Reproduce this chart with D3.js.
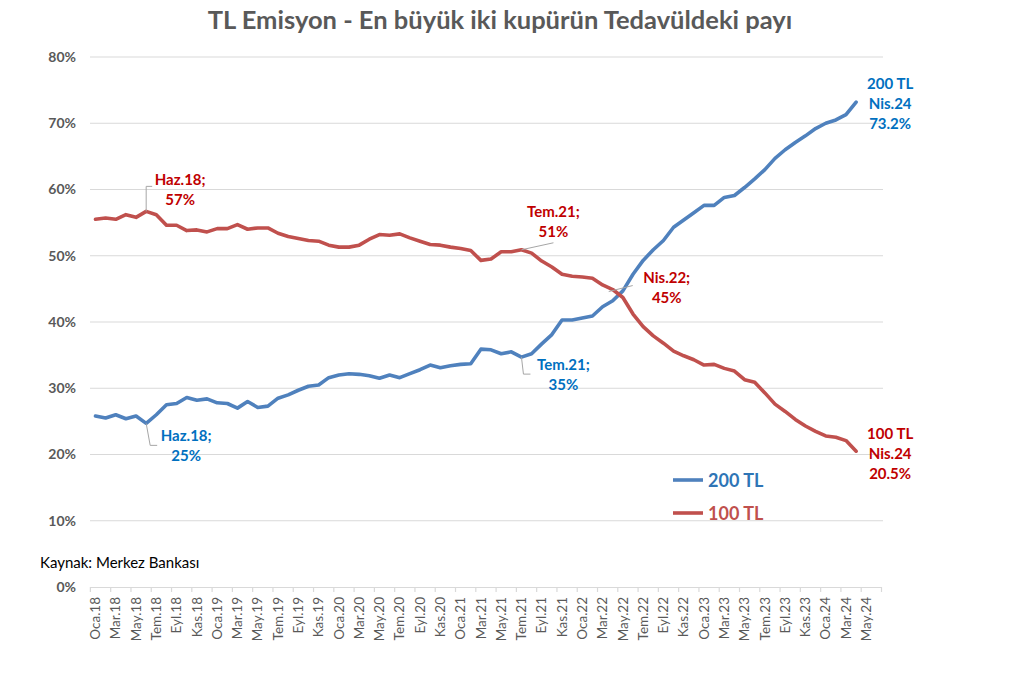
<!DOCTYPE html>
<html>
<head>
<meta charset="utf-8">
<script src="https://cdn.jsdelivr.net/npm/d3@7"></script>
<style>
  html, body { margin: 0; padding: 0; background: #fff; }
  svg { display: block; font-family: Lato, "Open Sans", sans-serif; }
</style>
</head>
<body>
<svg id="chart" width="1024" height="691"></svg>
<script>
const categories = [
  "Oca.18","Şub.18","Mar.18","Nis.18","May.18","Haz.18","Tem.18","Ağu.18","Eyl.18","Eki.18","Kas.18","Ara.18",
  "Oca.19","Şub.19","Mar.19","Nis.19","May.19","Haz.19","Tem.19","Ağu.19","Eyl.19","Eki.19","Kas.19","Ara.19",
  "Oca.20","Şub.20","Mar.20","Nis.20","May.20","Haz.20","Tem.20","Ağu.20","Eyl.20","Eki.20","Kas.20","Ara.20",
  "Oca.21","Şub.21","Mar.21","Nis.21","May.21","Haz.21","Tem.21","Ağu.21","Eyl.21","Eki.21","Kas.21","Ara.21",
  "Oca.22","Şub.22","Mar.22","Nis.22","May.22","Haz.22","Tem.22","Ağu.22","Eyl.22","Eki.22","Kas.22","Ara.22",
  "Oca.23","Şub.23","Mar.23","Nis.23","May.23","Haz.23","Tem.23","Ağu.23","Eyl.23","Eki.23","Kas.23","Ara.23",
  "Oca.24","Şub.24","Mar.24","Nis.24","May.24","Haz.24"
];

// share of 200 TL notes (%)
const values200 = [
  25.8,25.5,26.0,25.4,25.8,24.7,26.0,27.5,27.7,28.6,28.2,28.4,
  27.8,27.7,27.0,28.0,27.1,27.3,28.5,29.0,29.7,30.3,30.5,31.6,
  32.0,32.2,32.1,31.9,31.5,32.0,31.6,32.2,32.8,33.5,33.1,33.4,
  33.6,33.7,35.9,35.8,35.2,35.5,34.7,35.2,36.7,38.1,40.3,40.3,
  40.6,40.9,42.3,43.2,44.7,47.2,49.3,50.9,52.3,54.3,55.4,56.5,
  57.6,57.6,58.8,59.1,60.3,61.6,63.0,64.7,66.0,67.1,68.1,69.2,
  70.0,70.5,71.3,73.2
];
// share of 100 TL notes (%)
const values100 = [
  55.5,55.7,55.5,56.2,55.8,56.7,56.2,54.6,54.6,53.8,53.9,53.6,
  54.1,54.1,54.7,54.0,54.2,54.2,53.4,52.9,52.6,52.3,52.2,51.6,
  51.3,51.3,51.6,52.5,53.2,53.1,53.3,52.7,52.2,51.7,51.6,51.3,
  51.1,50.8,49.3,49.5,50.6,50.6,50.9,50.4,49.2,48.3,47.2,46.9,
  46.8,46.6,45.6,44.9,43.7,41.2,39.3,37.9,36.8,35.6,34.9,34.3,
  33.5,33.6,33.0,32.6,31.3,30.9,29.3,27.6,26.5,25.3,24.3,23.5,
  22.8,22.6,22.1,20.5
];
const yTicks = [0,10,20,30,40,50,60,70,80];
const seriesNames = ["200 TL","100 TL"];

const titleText = "TL Emisyon - En büyük iki kupürün Tedavüldeki payı";
const sourceText = "Kaynak: Merkez Bankası";

const lineColors = {"200 TL": "#4F81BD", "100 TL": "#C0504D"};
const labelColors = {"200 TL": "#0070C0", "100 TL": "#C00000"};
const legendTextColors = {"200 TL": "#2E75B6", "100 TL": "#C0504D"};

const svg = d3.select("#chart");
const grey = "#595959";

const x = d3.scaleBand().domain(categories).range([90.4, 881.5]).padding(0);
const y = d3.scaleLinear().domain([0, 80]).range([587, 57]);
const cx = c => x(c) + x.bandwidth() / 2;

// title
svg.append("text").attr("x", 500).attr("y", 29)
  .attr("text-anchor", "middle").attr("font-size", 25.5).attr("font-weight", 700)
  .attr("fill", grey).text(titleText);

// gridlines
svg.append("g").selectAll("line").data(yTicks.filter(d => d > 0)).join("line")
  .attr("x1", 90).attr("x2", 883)
  .attr("y1", d => y(d)).attr("y2", d => y(d))
  .attr("stroke", "#D9D9D9").attr("stroke-width", 1.2);

// y axis labels
const yAxis = d3.axisLeft(y).tickValues(yTicks).tickFormat(d => d + "%").tickSize(0).tickPadding(0);
const gy = svg.append("g").attr("transform", "translate(76,0)").call(yAxis);
gy.select(".domain").remove();
gy.selectAll("text").attr("font-size", 14).attr("font-weight", 700).attr("fill", grey)
  .attr("font-family", "Lato, sans-serif");

// x axis
const xAxis = d3.axisBottom(x).tickSize(0).tickPadding(0)
  .tickFormat((d, i) => (i % 2 === 0 && i < categories.length - 1) ? d : "");
const gx = svg.append("g").attr("transform", "translate(0,587)").call(xAxis);
gx.select(".domain").attr("stroke", "#D9D9D9").attr("stroke-width", 1.2);
gx.selectAll("text")
  .attr("font-size", 13.5).attr("fill", grey).attr("font-family", "Lato, sans-serif")
  .attr("transform", "rotate(-90)")
  .attr("text-anchor", "end").attr("x", -10).attr("y", 0).attr("dy", "0.35em");
// tick marks between every second category
gx.append("g").selectAll("line")
  .data(categories.filter((d, i) => i % 2 === 0).concat([null]))
  .join("line")
  .attr("x1", d => d === null ? x.range()[1] : x(d))
  .attr("x2", d => d === null ? x.range()[1] : x(d))
  .attr("y1", 0).attr("y2", 5)
  .attr("stroke", "#D9D9D9").attr("stroke-width", 1.2);

// lines
const line = d3.line().x(d => cx(d.c)).y(d => y(d.v));
const series = [
  {name: "200 TL", values: values200},
  {name: "100 TL", values: values100}
];
series.forEach(s => {
  s.points = s.values.map((v, i) => ({c: categories[i], v}));
});
svg.append("g").selectAll("path").data(series).join("path")
  .attr("d", s => line(s.points))
  .attr("fill", "none")
  .attr("stroke", s => lineColors[s.name])
  .attr("stroke-width", 3.6)
  .attr("stroke-linejoin", "round").attr("stroke-linecap", "round");

// annotations
const annotations = [
  {series: "100 TL", cat: "Haz.18", lines: ["Haz.18;", "57%"], dx: 34, dy: -26, leader: "elbowUp"},
  {series: "200 TL", cat: "Haz.18", lines: ["Haz.18;", "25%"], dx: 40, dy: 18, leader: "elbowDown"},
  {series: "100 TL", cat: "Tem.21", lines: ["Tem.21;", "51%"], dx: 32, dy: -33, leader: "diag"},
  {series: "200 TL", cat: "Tem.21", lines: ["Tem.21;", "35%"], dx: 42, dy: 13, leader: "elbowDown2"},
  {series: "100 TL", cat: "Nis.22", lines: ["Nis.22;", "45%"], dx: 54, dy: -7, leader: "diag2"},
  {series: "200 TL", cat: "Nis.24", lines: ["200 TL", "Nis.24", "73.2%"], dx: 34, dy: -13, leader: null},
  {series: "100 TL", cat: "Nis.24", lines: ["100 TL", "Nis.24", "20.5%"], dx: 34, dy: -12, leader: null}
];
const leaderG = svg.append("g");
const annG = svg.append("g");
annotations.forEach(a => {
  const s = series.find(d => d.name === a.series);
  const idx = categories.indexOf(a.cat);
  const px = cx(a.cat), py = y(s.values[idx]);
  const tx = px + a.dx, ty = py + a.dy;
  const t = annG.append("text").attr("text-anchor", "middle")
    .attr("font-size", 15).attr("font-weight", 700).attr("fill", labelColors[a.series]);
  a.lines.forEach((l, k) => {
    t.append("tspan").attr("x", tx).attr("y", ty + k * 20).text(l);
  });
  let pts = null;
  if (a.leader === "elbowUp") pts = [[px, py], [px, py - 25], [px + 6, py - 25]];
  if (a.leader === "elbowDown") pts = [[px, py], [px + 4, py + 22], [px + 11, py + 22]];
  if (a.leader === "diag") pts = [[px, py], [px + 32, py - 7]];
  if (a.leader === "elbowDown2") pts = [[px, py], [px + 2, py + 17], [px + 9, py + 17]];
  if (a.leader === "diag2") pts = [[px - 4, py + 2], [px + 20, py - 4]];
  if (pts) {
    leaderG.append("path").attr("d", d3.line()(pts))
      .attr("fill", "none").attr("stroke", "#A6A6A6").attr("stroke-width", 1);
  }
});

// legend
const legend = svg.append("g");
seriesNames.forEach((n, k) => {
  const ly = 480 + k * 33;
  legend.append("line").attr("x1", 673).attr("x2", 703).attr("y1", ly).attr("y2", ly)
    .attr("stroke", lineColors[n]).attr("stroke-width", 3.6);
  legend.append("text").attr("x", 708).attr("y", ly + 6.5)
    .attr("font-size", 18).attr("font-weight", 700).attr("fill", legendTextColors[n]).text(n);
});

// source
svg.append("text").attr("x", 40).attr("y", 568).attr("font-size", 15)
  .attr("fill", "#000").text(sourceText);
</script>
</body>
</html>
